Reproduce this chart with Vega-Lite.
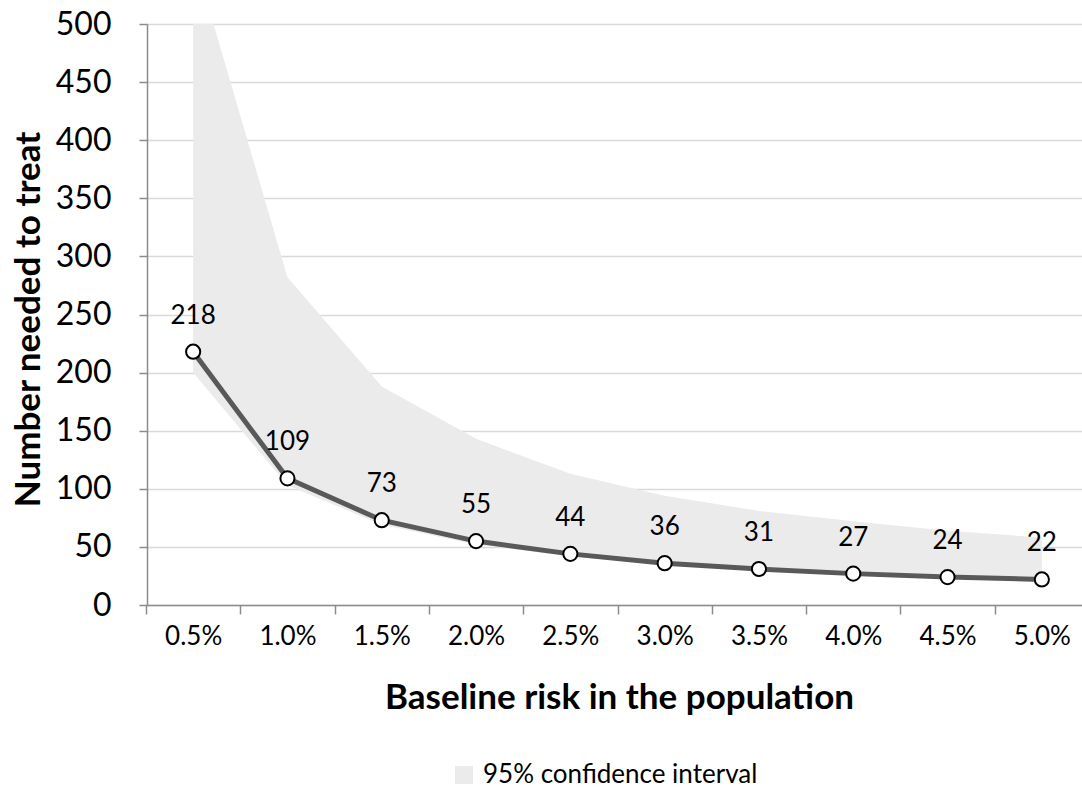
{
  "$schema": "https://vega.github.io/schema/vega-lite/v6.json",
  "autosize": "none",
  "width": 935,
  "height": 581,
  "padding": {"left": 147, "top": 24, "right": 0, "bottom": 188},
  "background": "white",
  "config": {
    "view": {"stroke": null},
    "font": "Lato"
  },
  "data": {
    "values": [
      {"risk": "0.5%", "nnt": 218, "lower": 200, "upper": 560},
      {"risk": "1.0%", "nnt": 109, "lower": 103, "upper": 282},
      {"risk": "1.5%", "nnt": 73, "lower": 69, "upper": 188},
      {"risk": "2.0%", "nnt": 55, "lower": 52, "upper": 143},
      {"risk": "2.5%", "nnt": 44, "lower": 42, "upper": 113},
      {"risk": "3.0%", "nnt": 36, "lower": 34.5, "upper": 94},
      {"risk": "3.5%", "nnt": 31, "lower": 29.5, "upper": 81},
      {"risk": "4.0%", "nnt": 27, "lower": 25.7, "upper": 72},
      {"risk": "4.5%", "nnt": 24, "lower": 23, "upper": 64},
      {"risk": "5.0%", "nnt": 22, "lower": 21, "upper": 58}
    ]
  },
  "encoding": {
    "x": {
      "field": "risk",
      "type": "ordinal",
      "sort": null,
      "scale": {"type": "band", "range": [-1, 942], "paddingInner": 0, "paddingOuter": 0},
      "axis": {
        "title": "Baseline risk in the population",
        "titleFont": "Lato",
        "titleFontSize": 35,
        "titleFontWeight": "bold",
        "titleColor": "#000000",
        "titleX": 472,
        "titleY": 92,
        "titleAlign": "center",
        "titleBaseline": "middle",
        "labelAngle": 0,
        "labelFont": "Lato",
        "labelFontSize": 26,
        "labelColor": "#000000",
        "labelPadding": 9,
        "tickBand": "extent",
        "tickSize": 9,
        "tickColor": "#8c8c8c",
        "tickWidth": 1.5,
        "domainColor": "#8c8c8c",
        "domainWidth": 1.5,
        "grid": false
      }
    }
  },
  "layer": [
    {
      "mark": {"type": "area", "clip": true, "opacity": 1},
      "encoding": {
        "y": {
          "field": "upper",
          "type": "quantitative",
          "scale": {"domain": [0, 500], "nice": false},
          "axis": {
            "title": "Number needed to treat",
            "titleFont": "Lato",
            "titleFontSize": 35,
            "titleFontWeight": "bold",
            "titleColor": "#000000",
            "titleX": -119,
            "titleY": 295,
            "titleAlign": "center",
            "titleBaseline": "middle",
            "titleAngle": -90,
            "values": [0, 50, 100, 150, 200, 250, 300, 350, 400, 450, 500],
            "labelFont": "Lato",
            "labelFontSize": 32,
            "labelColor": "#000000",
            "labelPadding": 28,
            "tickSize": 8,
            "tickColor": "#8c8c8c",
            "tickWidth": 1.5,
            "domainColor": "#8c8c8c",
            "domainWidth": 1.5,
            "grid": true,
            "gridColor": "#d9d9d9",
            "gridWidth": 1.5
          }
        },
        "y2": {"field": "lower"},
        "color": {
          "datum": "95% confidence interval",
          "type": "nominal",
          "scale": {"range": ["#ebebeb"]},
          "legend": {
            "title": null,
            "orient": "none",
            "legendX": 304,
            "legendY": 738,
            "symbolType": "square",
            "symbolSize": 324,
            "symbolStrokeWidth": 0,
            "symbolOpacity": 1,
            "labelFont": "Lato",
            "labelFontSize": 26,
            "labelColor": "#000000",
            "labelOffset": 6,
            "labelLimit": 0,
            "padding": 0
          }
        }
      }
    },
    {
      "mark": {"type": "line", "color": "#595959", "strokeWidth": 5},
      "encoding": {
        "y": {"field": "nnt", "type": "quantitative"}
      }
    },
    {
      "mark": {"type": "point", "filled": true, "fill": "white", "stroke": "#000000", "strokeWidth": 2, "size": 200, "opacity": 1},
      "encoding": {
        "y": {"field": "nnt", "type": "quantitative"}
      }
    },
    {
      "mark": {"type": "text", "dy": -36, "font": "Lato", "fontSize": 26, "color": "#000000"},
      "encoding": {
        "y": {"field": "nnt", "type": "quantitative"},
        "text": {"field": "nnt", "type": "quantitative"}
      }
    }
  ]
}
